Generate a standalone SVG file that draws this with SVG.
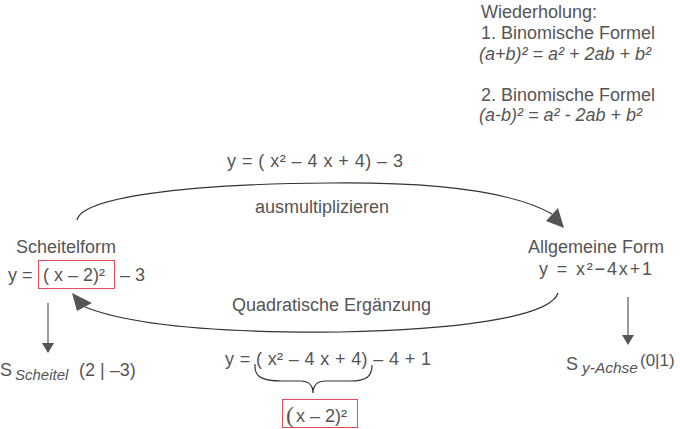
<svg xmlns="http://www.w3.org/2000/svg" width="680" height="429" viewBox="0 0 680 429">
<style>
text{font-family:"Liberation Sans",Arial,sans-serif;font-size:18px;fill:#555}
.it{font-style:italic}
.box{fill:none;stroke:#e0505a;stroke-width:1}
.ln{fill:none;stroke:#333;stroke-width:1.2}
.ar{fill:none;stroke:#555;stroke-width:1.2}
.hd{fill:#555}
</style>
<rect width="680" height="429" fill="#fff"/>
<g id="wiederholung">
<text x="481" y="18">Wiederholung:</text>
<text x="481" y="39">1. Binomische Formel</text>
<text x="479" y="60" class="it">(a+b)² = a² + 2ab + b²</text>
<text x="481" y="101">2. Binomische Formel</text>
<text x="479" y="121" class="it">(a-b)² = a² - 2ab + b²</text>
</g>
<g id="scheitelform">
<text x="16" y="253">Scheitelform</text>
<text x="8" y="281">y =</text>
<rect class="box" x="38.5" y="260.5" width="76" height="28"/>
<text x="43" y="281">( x – 2)²</text>
<text x="120" y="281">– 3</text>
</g>
<g id="allgemeine">
<text x="528" y="253">Allgemeine Form</text>
<text x="539" y="275" textLength="113" lengthAdjust="spacing">y =  x²−4x+1</text>
</g>
<g id="scheitelpunkt">
<text x="0" y="376">S</text>
<text x="15" y="380" class="it" style="font-size:15px">Scheitel</text>
<text x="79" y="376">(2 | –3)</text>
</g>
<g id="yachse">
<text x="566" y="370">S</text>
<text x="582" y="373" class="it" style="font-size:15.5px">y-Achse</text>
<text x="640" y="366" style="font-size:17px">(0|1)</text>
</g>
<g id="ergaenzung">
<text x="225" y="365" textLength="206" lengthAdjust="spacing">y = ( x²  – 4 x + 4) – 4 + 1</text>
<path class="ln" d="M255,364 C254,377 262,381 282,381 L300,381 C309,381 313,385 313,393 C313,385 317,381 326,381 L350,381 C366,381 372,377 372,365"/>
<rect class="box" x="282.5" y="399.5" width="75" height="28"/>
<text x="286" y="423" style="font-family:'Liberation Serif',serif;font-size:24px">(</text>
<text x="296" y="422">x – 2)²</text>
</g>
<g id="connectors">
<path class="ln" d="M77,220 C82,198 180,184 330,183 C430,182 510,190 552,214"/>
<polygon class="hd" points="546,221 558,208 564,228"/>
<text x="227" y="167" textLength="176" lengthAdjust="spacing">y = ( x²  – 4 x + 4) – 3</text>
<text x="255" y="213">ausmultiplizieren</text>
<path class="ln" d="M558,293 C550,318 450,330 340,332 C220,333 130,325 85,307"/>
<polygon class="hd" points="72,293 92,303 77,311"/>
<text x="232" y="311">Quadratische Ergänzung</text>
<line class="ar" x1="48" y1="303" x2="48" y2="344"/>
<polygon class="hd" points="42,343 54,343 48,353"/>
<line class="ar" x1="628" y1="297" x2="628" y2="336"/>
<polygon class="hd" points="622,335 634,335 628,345"/>
</g>
</svg>
